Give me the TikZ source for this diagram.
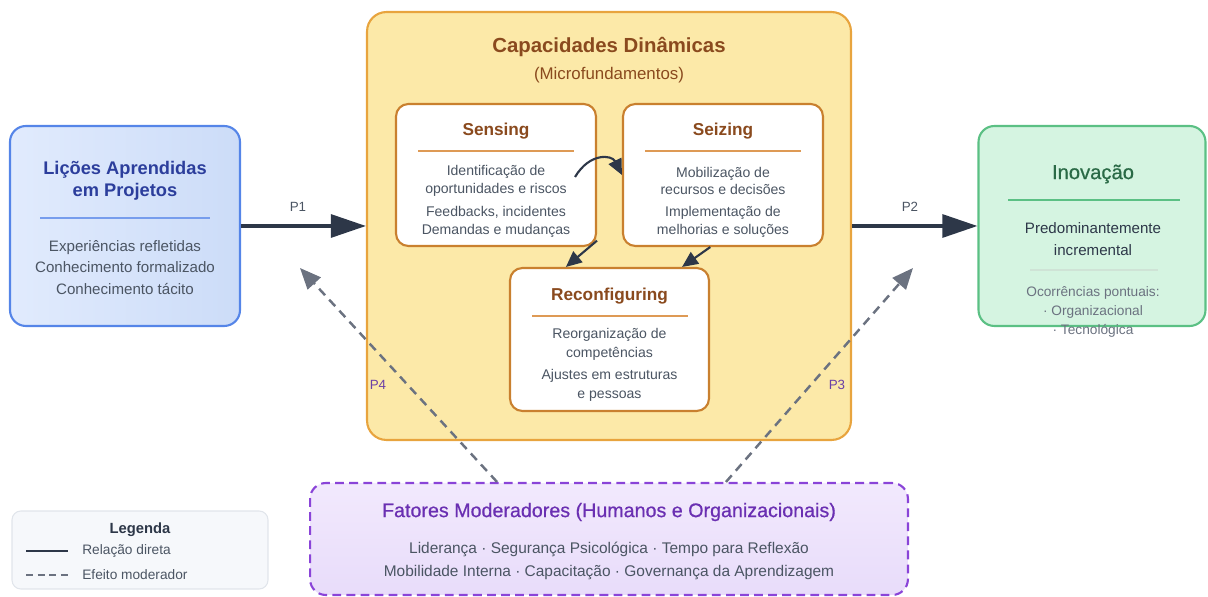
\documentclass[tikz,border=0pt]{standalone}
\usepackage{fontspec}
\setmainfont{Liberation Sans}
\newfontfamily\mediumsans[FakeBold=0.6]{Liberation Sans}
\usetikzlibrary{arrows.meta}

\definecolor{ink}{HTML}{2D3748}
\definecolor{bodytxt}{HTML}{4B5563}
\definecolor{softtxt}{HTML}{6B7280}
\definecolor{blueline}{HTML}{5585E8}
\definecolor{bluetitle}{HTML}{2C3E9C}
\definecolor{blueA}{HTML}{E1EBFD}
\definecolor{blueB}{HTML}{CCDCF8}
\definecolor{capfill}{HTML}{FCE9A8}
\definecolor{capline}{HTML}{E8A43E}
\definecolor{captitle}{HTML}{8A4A1E}
\definecolor{innerline}{HTML}{C9802F}
\definecolor{rule}{HTML}{DE9A55}
\definecolor{greenfill}{HTML}{D5F4E1}
\definecolor{greenline}{HTML}{5BC084}
\definecolor{greentitle}{HTML}{2A6A46}
\definecolor{greyrule}{HTML}{CFE3D6}
\definecolor{purpA}{HTML}{F2E9FD}
\definecolor{purpB}{HTML}{E8DCFA}
\definecolor{purpline}{HTML}{8A44D8}
\definecolor{purptitle}{HTML}{6A2FB2}
\definecolor{plabel}{HTML}{6B3FA6}
\definecolor{dashgrey}{HTML}{6B7280}
\definecolor{legfill}{HTML}{F6F8FB}
\definecolor{legline}{HTML}{E1E5EB}

\tikzset{
  x=0.02cm, y=-0.02cm,
  txt/.style={inner sep=0pt, align=center, text=bodytxt},
  fsbody/.style={font=\fontsize{8}{10.2}\selectfont},
  boxtitle/.style={inner sep=0pt, text=captitle, font=\fontsize{9.8}{12}\selectfont\bfseries},
  innerbox/.style={draw=innerline, line width=1.2pt, fill=white, rounded corners=7pt,
    minimum width=4cm, minimum height=2.84cm, inner sep=0pt},
  titlerule/.style={line width=0.9pt},
  direct/.style={draw=ink, line width=2.1pt, -{Triangle[length=20pt, width=13pt]}},
  inner arrow/.style={draw=ink, line width=1.2pt, -{Triangle[length=9pt, width=8pt]}},
  moderate/.style={draw=dashgrey, line width=1.4pt, dash pattern=on 5pt off 3.5pt,
    -{Triangle[length=12pt, width=10pt]}},
  plab/.style={inner sep=0pt, font=\fontsize{7.6}{9}\selectfont},
}

\begin{document}
\begin{tikzpicture}
\useasboundingbox (0,0) rectangle (1208,597);

% ---------- main boxes ----------
\node (lessons) [draw=blueline, line width=1.2pt, rounded corners=9pt,
  left color=blueA, right color=blueB, minimum width=4.6cm, minimum height=4cm]
  at (125,226) {};
\node (caps) [draw=capline, line width=1.2pt, rounded corners=11pt, fill=capfill,
  minimum width=9.68cm, minimum height=8.56cm] at (609,226) {};
\node (innov) [draw=greenline, line width=1.2pt, rounded corners=9pt, fill=greenfill,
  minimum width=4.54cm, minimum height=4cm] at (1092,226) {};
\node (mod) [draw=purpline, line width=1.2pt, dash pattern=on 5pt off 3pt,
  rounded corners=9pt, top color=purpA, bottom color=purpB,
  minimum width=11.96cm, minimum height=2.24cm] at (609,539) {};
\node (legend) [draw=legline, line width=0.6pt, rounded corners=5pt, fill=legfill,
  minimum width=5.12cm, minimum height=1.56cm] at (140,550) {};

% ---------- lessons learned ----------
\node (lt) [txt, text=bluetitle, font=\fontsize{10.4}{12.6}\selectfont\bfseries]
  at (125,181) {Lições Aprendidas\\em Projetos};
\coordinate (lr1) at (40,218);
\coordinate (lr2) at (210,218);
\draw[blueline!80, titlerule] (lr1) -- (lr2);
\node (lb) [txt, font=\fontsize{8.6}{12.2}\selectfont]
  at (125,267.5) {Experiências refletidas\\Conhecimento formalizado\\Conhecimento tácito};

% ---------- dynamic capabilities ----------
\node (ct) [inner sep=0pt, text=captitle, font=\fontsize{11.6}{13}\selectfont\bfseries]
  at (609,47) {Capacidades Dinâmicas};
\node (cs) [inner sep=0pt, text=captitle, font=\fontsize{9.6}{11}\selectfont]
  at (609,75) {(Microfundamentos)};

\node (sensing) [innerbox] at (496,175) {};
\node (seizing) [innerbox] at (723,175) {};
\node (reconf) [innerbox, minimum width=3.98cm, minimum height=2.86cm] at (609.5,339.5) {};

\node (st) [boxtitle] at (496,131) {Sensing};
\coordinate (sr1) at (418,151);
\coordinate (sr2) at (574,151);
\draw[rule, titlerule] (sr1) -- (sr2);
\node (sb1) [txt, fsbody] at (496,181) {Identificação de\\oportunidades e riscos};
\node (sb2) [txt, fsbody] at (496,222) {Feedbacks, incidentes\\Demandas e mudanças};

\node (zt) [boxtitle] at (723,131) {Seizing};
\coordinate (zr1) at (645,151);
\coordinate (zr2) at (801,151);
\draw[rule, titlerule] (zr1) -- (zr2);
\node (zb1) [txt, fsbody] at (723,181) {Mobilização de\\recursos e decisões};
\node (zb2) [txt, fsbody] at (723,222) {Implementação de\\melhorias e soluções};

\node (rt) [boxtitle] at (609.5,296) {Reconfiguring};
\coordinate (rr1) at (532,316);
\coordinate (rr2) at (688,316);
\draw[rule, titlerule] (rr1) -- (rr2);
\node (rb1) [txt, font=\fontsize{8}{10.8}\selectfont] at (609.5,344.5) {Reorganização de\\competências};
\node (rb2) [txt, font=\fontsize{8}{10.8}\selectfont] at (609.5,385.5) {Ajustes em estruturas\\e pessoas};

% flow between the microfoundations
\coordinate (loopstart) at (575,177);
\draw[inner arrow] (loopstart) .. controls (590,152) and (612,155) .. (seizing.west);
\draw[inner arrow] (sensing.-33) -- (reconf.121);
\draw[inner arrow] (seizing.-100) -- (reconf.45);

% ---------- innovation ----------
\node (it) [inner sep=0pt, text=greentitle, font=\fontsize{11.5}{13}\mediumsans]
  at (1093,174) {Inovação};
\coordinate (ir1) at (1008,200);
\coordinate (ir2) at (1180,200);
\draw[greenline, titlerule] (ir1) -- (ir2);
\node (ib) [txt, text=ink, font=\fontsize{8.6}{12.4}\selectfont]
  at (1093,239) {Predominantemente\\incremental};
\coordinate (ig1) at (1030,270);
\coordinate (ig2) at (1158,270);
\draw[greyrule, line width=0.6pt] (ig1) -- (ig2);
\node (io) [txt, text=softtxt, font=\fontsize{7.8}{11}\selectfont]
  at (1093,312) {Ocorrências pontuais:\\· Organizacional\\· Tecnológica};

% ---------- moderating factors ----------
\node (mt) [inner sep=0pt, text=purptitle, font=\fontsize{11.2}{13}\mediumsans]
  at (609,512) {Fatores Moderadores (Humanos e Organizacionais)};
\node (mb) [txt, font=\fontsize{8.8}{13.6}\selectfont]
  at (609,561) {Liderança · Segurança Psicológica · Tempo para Reflexão\\Mobilidade Interna · Capacitação · Governança da Aprendizagem};

% ---------- relations ----------
\draw[direct] (lessons.east) -- (caps.west);
\draw[direct] (caps.east) -- (innov.west);
\node (p1) [plab, text=bodytxt] at (298,207) {P1};
\node (p2) [plab, text=bodytxt] at (910,207) {P2};

\coordinate (m4) at (300,268);
\coordinate (m3) at (913,268);
\draw[moderate] (mod.153) -- (m4);
\draw[moderate] (mod.26) -- (m3);
\node (p4) [plab, text=plabel] at (378,385) {P4};
\node (p3) [plab, text=plabel] at (837,385) {P3};

% ---------- legend ----------
\node (lgt) [inner sep=0pt, text=ink, font=\fontsize{8.4}{10}\selectfont\bfseries]
  at (140,530) {Legenda};
\coordinate (ls1) at (26,551);
\coordinate (ls2) at (68,551);
\coordinate (ld1) at (26,575);
\coordinate (ld2) at (68,575);
\draw[ink, line width=1.4pt] (ls1) -- (ls2);
\draw[dashgrey, line width=1.2pt, dash pattern=on 4pt off 2.6pt] (ld1) -- (ld2);
\node (lg1) [inner sep=0pt, anchor=west, text=bodytxt, font=\fontsize{7.8}{9}\selectfont]
  at (82,551) {Relação direta};
\node (lg2) [inner sep=0pt, anchor=west, text=bodytxt, font=\fontsize{7.8}{9}\selectfont]
  at (82,575) {Efeito moderador};
\end{tikzpicture}
\end{document}
